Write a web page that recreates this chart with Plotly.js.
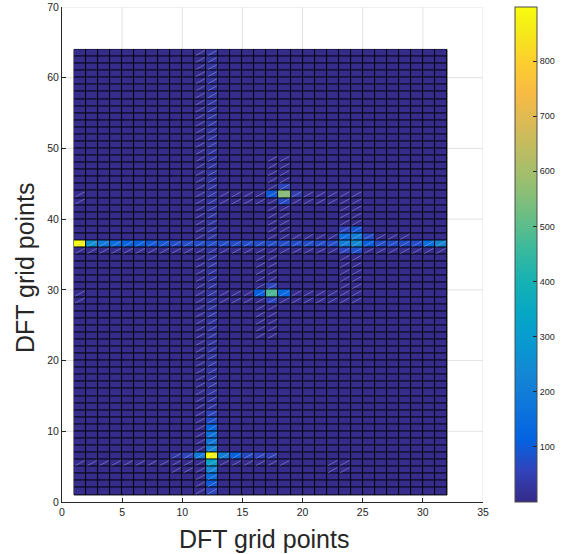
<!DOCTYPE html>
<html><head><meta charset="utf-8">
<script src="https://cdn.plot.ly/plotly-3.0.1.min.js"></script>
<style>html,body{margin:0;padding:0;background:#fff}#chart{width:567px;height:554px}</style>
</head><body><div id="chart"></div>
<script>
// grid of DFT points (vertex indices)
const nGridX = 32;
const nGridY = 64;
const baselineValue = 5;
const colorMin = 0, colorMax = 898;

// main horizontal line (row y = 36), values for cells x = 1..31
const mainRowY = 36;
const mainRowValues = [898,260,190,150,120,110,100,90,75,75,75,75,75,75,75,75,75,75,75,75,75,75,200,240,110,75,75,75,75,150,230];

// main vertical line (column x = 12), values for cells y = 1..63
const mainColX = 12;
const mainColValues = [60,100,150,230,330,898,220,180,160,120,80,60,
  28,28,28,28,28,28,28,28,28,28,28,28,28,28,28,28,28,28,28,28,28,28,28,28,28,28,28,28,
  28,28,28,28,28,28,28,28,28,28,28,28,28,28,28,28,28,28,28,28,28,28,28];

// other highlighted cells (x, y, value)
const cellX   = [9, 10, 11, 13, 14, 15, 16, 17, 18, 17, 18, 18, 19, 16, 17, 18, 17, 17, 23, 24, 25, 23, 24, 23, 24];
const cellY   = [6, 6, 6, 6, 6, 6, 6, 6, 43, 43, 44, 42, 43, 29, 29, 29, 30, 28, 37, 37, 37, 38, 38, 35, 35];
const cellVal = [30, 60, 200, 200, 110, 70, 60, 50, 560, 100, 60, 70, 40, 110, 480, 130, 60, 60, 150, 210, 70, 60, 90, 60, 80];

// faces drawn with a visible diagonal seam (row bands: y, x from, x to)
const seamRowY    = [35, 36, 37, 42, 43, 42, 43, 28, 29, 28, 29, 5, 6, 4, 5, 4];
const seamRowFrom = [1, 1, 19, 11, 11, 1, 1, 11, 11, 1, 1, 1, 9, 9, 22, 22];
const seamRowTo   = [31, 31, 28, 24, 24, 1, 1, 24, 24, 1, 1, 18, 17, 10, 23, 23];
// column bands: x, y from, y to
const seamColX    = [11, 12, 17, 18, 16, 17, 23, 24];
const seamColFrom = [1, 1, 37, 37, 23, 23, 30, 30];
const seamColTo   = [63, 63, 48, 48, 34, 34, 42, 42];

// axis ticks
const xTicks = [0,5,10,15,20,25,30,35];
const yTicks = [0,10,20,30,40,50,60,70];
const cbTicks = [100,200,300,400,500,600,700,800];

// parula colormap
const parula = [
  [0.000,'rgb(53,42,135)'],[0.063,'rgb(50,67,186)'],[0.127,'rgb(3,99,225)'],[0.190,'rgb(13,117,220)'],
  [0.254,'rgb(20,133,212)'],[0.317,'rgb(9,152,209)'],[0.381,'rgb(6,167,198)'],[0.444,'rgb(21,177,180)'],
  [0.508,'rgb(56,185,158)'],[0.571,'rgb(101,190,134)'],[0.635,'rgb(146,191,115)'],[0.698,'rgb(183,189,100)'],
  [0.762,'rgb(217,186,86)'],[0.825,'rgb(248,187,68)'],[0.889,'rgb(252,206,46)'],[0.952,'rgb(245,235,24)'],
  [1.000,'rgb(249,251,14)']
];

// build the cell matrix (rows y = 1..63, cols x = 1..31)
const xEdges = [], yEdges = [];
for (let i = 1; i <= nGridX; i++) xEdges.push(i);
for (let j = 1; j <= nGridY; j++) yEdges.push(j);
const z = [];
for (let r = 0; r < nGridY - 1; r++) {
  const row = [];
  for (let c = 0; c < nGridX - 1; c++) row.push(baselineValue);
  z.push(row);
}
mainColValues.forEach((v, r) => { z[r][mainColX - 1] = v; });
mainRowValues.forEach((v, c) => { z[mainRowY - 1][c] = v; });
cellX.forEach((x, k) => { z[cellY[k] - 1][x - 1] = cellVal[k]; });

// seam set
const seam = {};
seamRowY.forEach((y, k) => { for (let x = seamRowFrom[k]; x <= seamRowTo[k]; x++) seam[x + ',' + y] = [x, y]; });
seamColX.forEach((x, k) => { for (let y = seamColFrom[k]; y <= seamColTo[k]; y++) seam[x + ',' + y] = [x, y]; });
const sx = [], sy = [];
Object.values(seam).forEach(([x, y]) => { sx.push(x + 0.1, x + 0.9, null); sy.push(y + 0.12, y + 0.88, null); });

const font = 'Liberation Sans, Arial, Helvetica, sans-serif';
const heat = {
  type: 'heatmap', x: xEdges, y: yEdges, z: z,
  zmin: colorMin, zmax: colorMax, colorscale: parula, zsmooth: false,
  xgap: 1, ygap: 1, hoverinfo: 'x+y+z',
  colorbar: {
    x: 1.076, xanchor: 'left', xref: 'paper', xpad: 0, ypad: 0,
    y: 0.5, yanchor: 'middle', len: 1, lenmode: 'fraction',
    thickness: 22, thicknessmode: 'pixels',
    outlinecolor: '#4d4d4d', outlinewidth: 1,
    tickvals: cbTicks,
    ticks: 'inside', ticklen: 4, tickcolor: '#262626',
    tickfont: {family: font, size: 9, color: '#262626'}
  }
};
const seams = {
  type: 'scatter', mode: 'lines', x: sx, y: sy, hoverinfo: 'skip',
  line: {color: 'rgba(180,180,240,0.55)', width: 0.8}, connectgaps: false
};

const axisCommon = {
  showline: true, linecolor: '#262626', linewidth: 1, mirror: false,
  ticks: 'inside', ticklen: 4, tickcolor: '#262626',
  showgrid: false, zeroline: false,
  tickfont: {family: font, size: 10.5, color: '#262626'}
};

const gridColor = '#e3e3e3';
const shapes = [];
xTicks.slice(1).forEach(v => shapes.push({type: 'line', xref: 'x', yref: 'paper', x0: v, x1: v, y0: 0, y1: 1, layer: 'below', line: {color: gridColor, width: 1}}));
yTicks.slice(1).forEach(v => shapes.push({type: 'line', xref: 'paper', yref: 'y', x0: 0, x1: 1, y0: v, y1: v, layer: 'below', line: {color: gridColor, width: 1}}));
shapes.push({type: 'rect', xref: 'x', yref: 'y', x0: 1, x1: nGridX, y0: 1, y1: nGridY, layer: 'below',
  fillcolor: '#000000', line: {color: '#000000', width: 1}});

const layout = {
  width: 567, height: 554,
  margin: {l: 62, r: 84.3, t: 7, b: 52, pad: 0},
  paper_bgcolor: '#ffffff', plot_bgcolor: '#ffffff',
  xaxis: Object.assign({}, axisCommon, {range: [0, 35], tickvals: xTicks}),
  yaxis: Object.assign({}, axisCommon, {range: [0, 70], tickvals: yTicks}),
  shapes: shapes,
  annotations: [
    {text: 'DFT grid points', xref: 'paper', yref: 'paper', x: (264 - 62) / 420.7, y: (502 - 539) / 495,
     xanchor: 'center', yanchor: 'middle', showarrow: false, font: {family: font, size: 25, color: '#262626'}},
    {text: 'DFT grid points', xref: 'paper', yref: 'paper', x: (25 - 62) / 420.7, y: (502 - 268) / 495,
     xanchor: 'center', yanchor: 'middle', textangle: -90, showarrow: false, font: {family: font, size: 25, color: '#262626'}}
  ],
  showlegend: false
};

Plotly.newPlot('chart', [heat, seams], layout, {displayModeBar: false, staticPlot: true});
</script>
</body></html>
